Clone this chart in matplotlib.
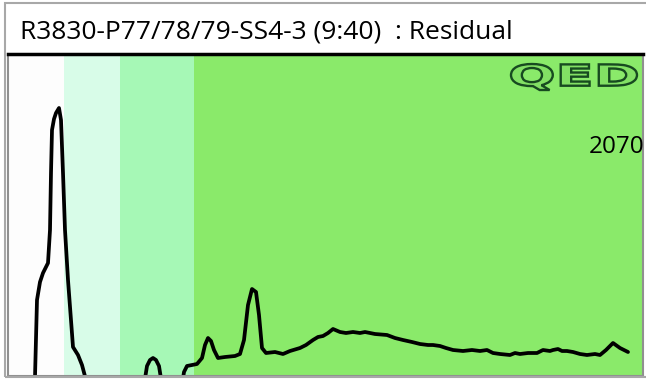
import numpy as np
import matplotlib
matplotlib.use("Agg")
import matplotlib.pyplot as plt
from matplotlib.patches import Rectangle, PathPatch
from matplotlib.textpath import TextPath
from matplotlib.font_manager import FontProperties
from matplotlib.transforms import Affine2D

# trace: retention position vs detector signal (arbitrary units)
rt = [27, 27, 29, 32, 35, 40, 42, 43, 44, 46, 48, 51, 53, 55, 57, 60, 65, 70, 74, 78,
      136, 139, 142, 145, 148, 151, 154,
      174, 176, 179, 184, 189, 194, 197, 200, 203, 206, 210, 217, 227, 232, 236, 240,
      244, 248, 251, 254, 258, 267, 275, 282, 292, 298, 305, 310, 315, 320, 325, 332,
      338, 345, 352, 357, 362, 367, 379, 387, 395, 404, 412, 420, 425, 432, 438, 445,
      455, 464, 472, 479, 485, 492, 502, 507, 512, 520, 529, 535, 542, 545, 550, 554,
      559, 565, 572, 579, 587, 592, 598, 605, 612, 620]
signal = [-4, -1, 76, 94, 103, 113, 146, 203, 246, 257, 263, 268, 256, 203, 146, 96, 29, 21, 11, -4,
          -9, 10, 16, 18, 16, 10, -9,
          -9, 4, 10, 11, 12, 18, 31, 38, 35, 26, 18, 19, 20, 22, 36, 71,
          87, 84, 61, 28, 23, 24, 22, 25, 28, 31, 36, 39, 40, 43, 47, 44,
          43, 44, 43, 44, 43, 42, 41, 38, 36, 34, 32, 31, 31, 30, 28, 26,
          25, 26, 25, 26, 23, 22, 21, 23, 22, 23, 23, 26, 25, 26, 27, 25,
          25, 24, 22, 21, 22, 21, 26, 33, 28, 24]

# shaded regions behind the trace
band_edges = [0, 56, 112, 186, 635]
band_colors = ["#fdfdfd", "#d8fce8", "#a6f8b6", "#8aea6a"]

title = "R3830-P77/78/79-SS4-3 (9:40)  : Residual"
run_label = "2070"

W, H = 646, 379
fig = plt.figure(figsize=(W / 100, H / 100), dpi=100)
fig.patch.set_facecolor("white")

# outer grey frame
fig.patches.append(Rectangle((5 / W, 2 / H), 660 / W, 374 / H, transform=fig.transFigure,
                             fill=False, edgecolor="#a8a8a8", lw=1.5))

ax = fig.add_axes([8 / W, 3 / H, 635 / W, 322 / H])
ax.set_xlim(0, 635)
ax.set_ylim(0, 322)
for lo, hi, c in zip(band_edges[:-1], band_edges[1:], band_colors):
    ax.axvspan(lo, hi, color=c, lw=0)
ax.plot(rt, signal, color="black", lw=2.7, solid_joinstyle="round", solid_capstyle="round")
ax.set_xticks([])
ax.set_yticks([])
ax.spines["top"].set_color("black")
ax.spines["top"].set_linewidth(2.5)
for s in ["left", "bottom", "right"]:
    ax.spines[s].set_color("#909090")
    ax.spines[s].set_linewidth(1.5)

fig.text(20 / W, 1 - 32 / H, title, fontsize=19, family="Open Sans",
         ha="left", va="center", color="black")
ax.text(636, 376 - 147, run_label, fontsize=17.5, family="Open Sans",
        ha="right", va="center", color="black")

# QED logo, outlined letters stretched into the top-right corner
tp = TextPath((0, 0), "QED", size=1, prop=FontProperties(family="DejaVu Sans", weight="bold"))
ext = tp.get_extents()
x0, x1, y0, y1 = 511, 637, H - 90, H - 64
tr = (Affine2D().translate(-ext.x0, -ext.y0)
      .scale((x1 - x0) / ext.width / W, (y1 - y0) / ext.height / H)
      .translate(x0 / W, y0 / H) + fig.transFigure)
fig.patches.append(PathPatch(tp, transform=tr, facecolor="#82e064",
                             edgecolor="#174a20", lw=1.7))

fig.savefig("out.png", dpi=100)
